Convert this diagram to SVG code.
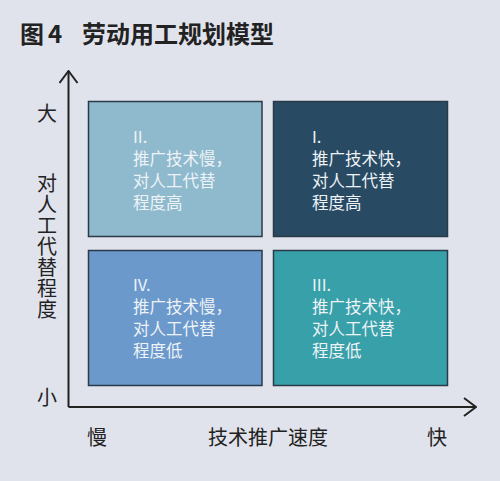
<svg xmlns="http://www.w3.org/2000/svg" width="500" height="481" viewBox="0 0 500 481">
<style>
.cjk{font-family:"Noto Sans CJK SC","Noto Sans",sans-serif}
.title{font-size:24px;font-weight:bold;fill:#222}
.ax{font-size:20px;fill:#222}
.box{stroke:#2b3a48;stroke-width:1.5}
.bt{font-size:16.5px;fill:#eef3f7}
.axis{stroke:#222;stroke-width:2;fill:none}
</style>
<defs>
<marker id="arr" viewBox="0 0 14 20" refX="13" refY="10" markerWidth="14" markerHeight="20" markerUnits="userSpaceOnUse" orient="auto">
<path d="M1,1 L13,10 L1,19" fill="none" stroke="#222" stroke-width="2"/>
</marker>
</defs>
<rect width="500" height="481" fill="#e1e3ec"/>
<text class="cjk title" y="43"><tspan x="20">图</tspan><tspan x="48">4</tspan><tspan x="82">劳动用工规划模型</tspan></text>
<g id="connectors">
<path class="axis" d="M68.5,407 L68.5,71" marker-end="url(#arr)"/>
<path class="axis" d="M68.5,407 L476,407" marker-end="url(#arr)"/>
</g>
<g id="q2">
<rect class="box" x="88.5" y="101.5" width="173.5" height="135" fill="#8fbacd"/>
<text class="cjk bt"><tspan x="133" y="143">II.</tspan><tspan x="133" y="165">推广技术慢，</tspan><tspan x="133" y="187">对人工代替</tspan><tspan x="133" y="209">程度高</tspan></text>
</g>
<g id="q1">
<rect class="box" x="273.5" y="101.5" width="174" height="135" fill="#294a63"/>
<text class="cjk bt"><tspan x="312" y="143">I.</tspan><tspan x="312" y="165">推广技术快，</tspan><tspan x="312" y="187">对人工代替</tspan><tspan x="312" y="209">程度高</tspan></text>
</g>
<g id="q4">
<rect class="box" x="88.5" y="250.5" width="173.5" height="135" fill="#6b99cc"/>
<text class="cjk bt"><tspan x="133" y="291">IV.</tspan><tspan x="133" y="313">推广技术慢，</tspan><tspan x="133" y="335">对人工代替</tspan><tspan x="133" y="357">程度低</tspan></text>
</g>
<g id="q3">
<rect class="box" x="273.5" y="250.5" width="174" height="135" fill="#38a0a9"/>
<text class="cjk bt"><tspan x="312" y="291">III.</tspan><tspan x="312" y="313">推广技术快，</tspan><tspan x="312" y="335">对人工代替</tspan><tspan x="312" y="357">程度低</tspan></text>
</g>
<g id="labels">
<text class="cjk ax" x="47" y="121" text-anchor="middle">大</text>
<text class="cjk ax" x="47" y="173" style="writing-mode:vertical-rl;letter-spacing:1px">对人工代替程度</text>
<text class="cjk ax" x="47" y="405" text-anchor="middle">小</text>
<text class="cjk ax" x="97" y="445" text-anchor="middle">慢</text>
<text class="cjk ax" x="268" y="445" text-anchor="middle">技术推广速度</text>
<text class="cjk ax" x="437" y="445" text-anchor="middle">快</text>
</g>
</svg>
